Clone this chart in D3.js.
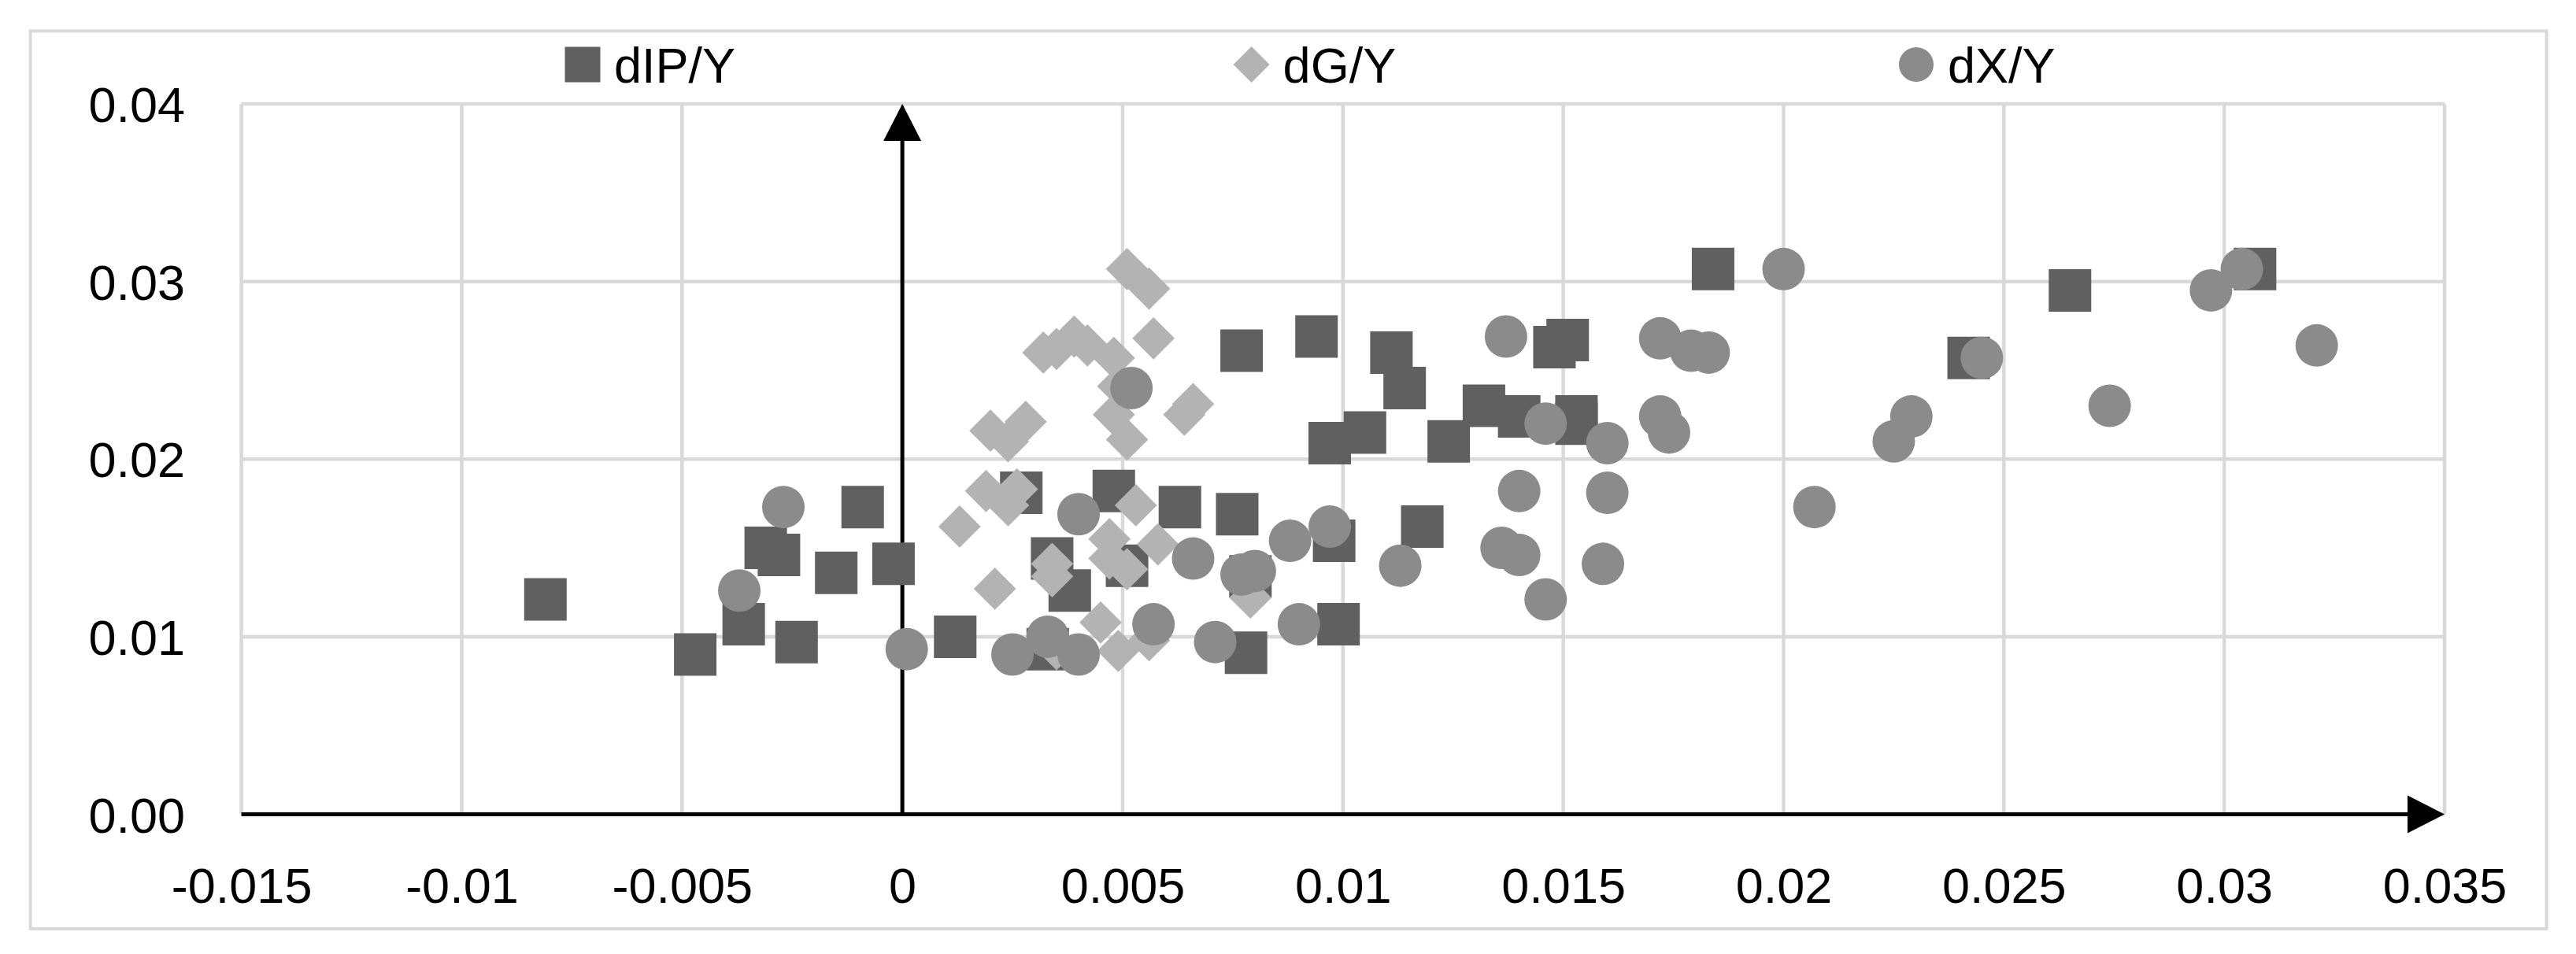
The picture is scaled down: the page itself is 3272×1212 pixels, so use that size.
<!DOCTYPE html>
<html><head><meta charset="utf-8">
<script src="https://cdn.jsdelivr.net/npm/d3@7"></script>
<style>html,body{margin:0;padding:0;background:#fff;}svg{display:block}</style>
</head><body><svg id="chart" width="3272" height="1212"></svg>
<script>
// ---- data ----
const seriesNames = ["dIP/Y", "dG/Y", "dX/Y"];

const dIP = [
  [-0.0081,0.0121],[-0.0047,0.0090],[-0.0036,0.0107],[-0.0024,0.0097],[-0.0031,0.0150],
  [-0.0028,0.0146],[-0.0015,0.0136],[-0.0009,0.0173],[-0.0002,0.0141],[0.0012,0.0100],
  [0.0027,0.0181],[0.0048,0.0182],[0.0063,0.0173],[0.0076,0.0169],[0.0034,0.0144],
  [0.0038,0.0126],[0.0051,0.0140],[0.0079,0.0134],[0.0098,0.0154],[0.0099,0.0107],
  [0.0078,0.0091],[0.0033,0.0093],[0.0077,0.0261],[0.0094,0.0269],[0.0097,0.0209],
  [0.0105,0.0215],[0.0111,0.0260],[0.0114,0.0240],[0.0124,0.0210],[0.0132,0.0230],
  [0.0140,0.0224],[0.0148,0.0263],[0.0151,0.0267],[0.0153,0.0224],[0.0153,0.0220],
  [0.0118,0.0162],[0.0184,0.0307],[0.0242,0.0257],[0.0265,0.0295],[0.0307,0.0307]
];

const dG = [
  [0.0051,0.0307],[0.0056,0.0296],[0.0057,0.0268],[0.0032,0.0260],[0.0035,0.0262],
  [0.0039,0.0269],[0.0042,0.0264],[0.0048,0.0257],[0.0049,0.0241],[0.0048,0.0225],
  [0.0051,0.0211],[0.0064,0.0225],[0.0066,0.0231],[0.0020,0.0216],[0.0024,0.0210],
  [0.0028,0.0221],[0.0013,0.0162],[0.0019,0.0182],[0.0026,0.0183],[0.0024,0.0174],
  [0.0021,0.0127],[0.0034,0.0141],[0.0034,0.0134],[0.0053,0.0174],[0.0047,0.0155],
  [0.0058,0.0152],[0.0051,0.0138],[0.0047,0.0144],[0.0079,0.0122],[0.0045,0.0108],
  [0.0049,0.0092],[0.0056,0.0098],[0.0035,0.0093]
];

const dX = [
  [-0.0027,0.0173],[-0.0037,0.0126],[0.0001,0.0093],[0.0052,0.0240],[0.0040,0.0169],
  [0.0066,0.0144],[0.0077,0.0135],[0.0080,0.0137],[0.0088,0.0154],[0.0097,0.0162],
  [0.0057,0.0107],[0.0071,0.0097],[0.0090,0.0107],[0.0025,0.0090],[0.0033,0.0100],
  [0.0040,0.0090],[0.0200,0.0307],[0.0137,0.0269],[0.0172,0.0268],[0.0179,0.0261],
  [0.0183,0.0260],[0.0146,0.0220],[0.0160,0.0209],[0.0172,0.0224],[0.0174,0.0215],
  [0.0140,0.0182],[0.0160,0.0181],[0.0136,0.0150],[0.0140,0.0146],[0.0159,0.0141],
  [0.0146,0.0121],[0.0113,0.0140],[0.0207,0.0173],[0.0245,0.0257],[0.0229,0.0224],
  [0.0225,0.0210],[0.0274,0.0230],[0.0297,0.0295],[0.0304,0.0307],[0.0321,0.0264]
];

const xTicks = [-0.015,-0.01,-0.005,0,0.005,0.01,0.015,0.02,0.025,0.03,0.035];
const xTickLabels = ["-0.015","-0.01","-0.005","0","0.005","0.01","0.015","0.02","0.025","0.03","0.035"];
const yTicks = [0,0.01,0.02,0.03,0.04];
const yTickLabels = ["0.00","0.01","0.02","0.03","0.04"];

// ---- chart ----
const W = 3272, H = 1212;
const FONT = "'Liberation Sans', Arial, sans-serif";
const svg = d3.select("#chart");
svg.append("rect").attr("width", W).attr("height", H).attr("fill", "#fff");
svg.append("rect").attr("x", 38.6).attr("y", 39.4).attr("width", 3196).attr("height", 1140.6)
  .attr("fill", "none").attr("stroke", "#d9d9d9").attr("stroke-width", 4);

const x = d3.scaleLinear().domain([-0.015, 0.035]).range([306.6, 3105]);
const y = d3.scaleLinear().domain([0, 0.04]).range([1034.5, 132]);

// gridlines
const grid = svg.append("g").attr("stroke", "#d9d9d9").attr("stroke-width", 4.5);
grid.selectAll("line.v").data(xTicks).join("line").attr("class", "v")
  .attr("x1", d => x(d)).attr("x2", d => x(d)).attr("y1", y(0)).attr("y2", y(0.04));
grid.selectAll("line.h").data(yTicks).join("line").attr("class", "h")
  .attr("x1", x(-0.015)).attr("x2", x(0.035)).attr("y1", d => y(d)).attr("y2", d => y(d));

// tick labels via d3 axes
const xAxis = d3.axisBottom(x).tickValues(xTicks).tickSize(0).tickPadding(68)
  .tickFormat((d, i) => xTickLabels[i]);
const gx = svg.append("g").attr("transform", `translate(0,${y(0)})`).call(xAxis);
gx.select(".domain").remove();
gx.selectAll("text").attr("font-family", FONT).attr("font-size", 63).attr("fill", "#000");

const yAxis = d3.axisLeft(y).tickValues(yTicks).tickSize(0).tickPadding(71.6)
  .tickFormat((d, i) => yTickLabels[i]);
const gy = svg.append("g").attr("transform", `translate(${x(-0.015)},0)`).call(yAxis);
gy.select(".domain").remove();
gy.selectAll("text").attr("font-family", FONT).attr("font-size", 63).attr("fill", "#000").attr("dy", "0.36em");

// axis lines with arrows
const axes = svg.append("g");
axes.append("line").attr("x1", x(-0.015)).attr("x2", x(0.035) - 40).attr("y1", y(0)).attr("y2", y(0))
  .attr("stroke", "#000").attr("stroke-width", 5);
axes.append("path").attr("fill", "#000")
  .attr("d", `M${x(0.035)},${y(0)} L${x(0.035) - 47},${y(0) - 24} L${x(0.035) - 47},${y(0) + 24} Z`);
axes.append("line").attr("x1", x(0)).attr("x2", x(0)).attr("y1", y(0)).attr("y2", y(0.04) + 40)
  .attr("stroke", "#000").attr("stroke-width", 5);
axes.append("path").attr("fill", "#000")
  .attr("d", `M${x(0)},${y(0.04)} L${x(0) - 24},${y(0.04) + 47} L${x(0) + 24},${y(0.04) + 47} Z`);

// markers
const colIP = "#606060", colG = "#b3b3b3", colX = "#8b8b8b";
const sq = d3.symbol(d3.symbolSquare, 54 * 54)();
const dia = d3.symbol(d3.symbolSquare, 38 * 38)();
const circ = d3.symbol(d3.symbolCircle, Math.PI * 27 * 27)();

svg.append("g").selectAll("path").data(dIP).join("path")
  .attr("d", sq).attr("fill", colIP)
  .attr("transform", d => `translate(${x(d[0])},${y(d[1])})`);
svg.append("g").selectAll("path").data(dG).join("path")
  .attr("d", dia).attr("fill", colG)
  .attr("transform", d => `translate(${x(d[0])},${y(d[1])}) rotate(45)`);
svg.append("g").selectAll("path").data(dX).join("path")
  .attr("d", circ).attr("fill", colX)
  .attr("transform", d => `translate(${x(d[0])},${y(d[1])})`);

// legend
const legendPos = [740, 1589.6, 2434];
const legendSyms = [
  {d: d3.symbol(d3.symbolSquare, 45 * 45)(), fill: colIP, rot: 0},
  {d: d3.symbol(d3.symbolSquare, 32.5 * 32.5)(), fill: colG, rot: 45},
  {d: d3.symbol(d3.symbolCircle, Math.PI * 22 * 22)(), fill: colX, rot: 0}
];
const leg = svg.append("g");
seriesNames.forEach((name, i) => {
  leg.append("path").attr("d", legendSyms[i].d).attr("fill", legendSyms[i].fill)
    .attr("transform", `translate(${legendPos[i]},82) rotate(${legendSyms[i].rot})`);
  leg.append("text").attr("x", legendPos[i] + 40).attr("y", 104.5)
    .attr("font-family", FONT).attr("font-size", 63).attr("fill", "#000").text(name);
});
</script>
</body></html>
